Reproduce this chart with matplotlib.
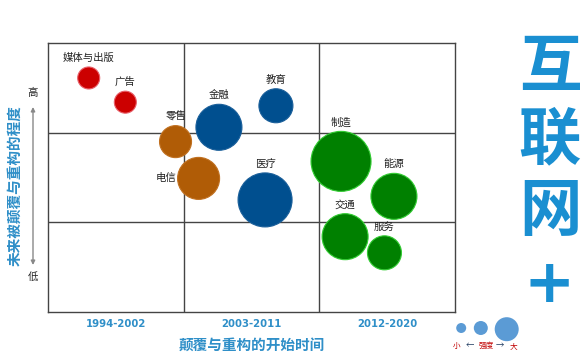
import matplotlib.pyplot as plt

plt.rcParams['font.family'] = ['Noto Sans CJK SC', 'DejaVu Sans']

# Industry bubbles: start period (x), degree of disruption (y), bubble radius (px)
industries = ["媒体与出版", "广告", "零售", "电信", "金融", "教育", "医疗",
              "制造", "能源", "交通", "服务"]
start_time = [0.30, 0.57, 0.94, 1.11, 1.26, 1.68, 1.60, 2.16, 2.55, 2.19, 2.48]
disruption = [2.61, 2.34, 1.90, 1.49, 2.06, 2.30, 1.25, 1.68, 1.29, 0.84, 0.66]
strength   = [11, 11, 16, 21, 23, 17, 27, 30, 23, 23, 17]
groups     = ["red", "red", "brown", "brown", "blue", "blue", "blue",
              "green", "green", "green", "green"]

periods = ["1994-2002", "2003-2011", "2012-2020"]
legend_strength = [5, 7, 12]

fill = {"red": "#cc0000", "brown": "#b05c06", "blue": "#004f8f", "green": "#008000"}
edge = {"red": "#e8606a", "brown": "#c07020", "blue": "#1a5f9a", "green": "#33cc33"}
label_blue = "#2f8fc8"

# pixel radius -> scatter size (points^2), figure at 100 dpi
def to_size(r):
    return (2 * r * 0.72) ** 2

fig = plt.figure(figsize=(5.88, 3.57), dpi=100)
ax = fig.add_axes([48/588, 1 - 312/357, 407/588, 269/357])
ax.set_xlim(0, 3)
ax.set_ylim(0, 3)

for v in [1, 2]:
    ax.axvline(v, color="#444444", lw=1)
    ax.axhline(v, color="#444444", lw=1)
for s in ax.spines.values():
    s.set_color("#444444")
    s.set_linewidth(1)

ax.scatter(start_time, disruption, s=[to_size(r) for r in strength],
           c=[fill[g] for g in groups], edgecolors=[edge[g] for g in groups],
           linewidths=0.8, zorder=3)

for name, x, y, r in zip(industries, start_time, disruption, strength):
    if name == "电信":
        ax.annotate(name, (x, y), xytext=(-(r + 12) * 0.72, 0), textcoords="offset points",
                    ha="center", va="center", fontsize=7.5, color="#222222")
    else:
        ax.annotate(name, (x, y), xytext=(0, (r + 9) * 0.72), textcoords="offset points",
                    ha="center", va="center", fontsize=7.5, color="#222222")

ax.set_xticks([0.5, 1.5, 2.5])
ax.set_xticklabels(periods, fontsize=7.3, fontweight="bold", color=label_blue,
                   family=["DejaVu Sans"])
ax.tick_params(axis="x", length=0, pad=5)
ax.set_yticks([])

# axis titles
fig.text(252/588, 1 - 345/357, "颠覆与重构的开始时间", ha="center", va="center",
         fontsize=10.5, fontweight="bold", color=label_blue)
fig.text(14/588, 1 - 186/357, "未来被颠覆与重构的程度", ha="center", va="center",
         rotation=90, fontsize=10.5, fontweight="bold", color=label_blue)

# high / low arrow
fig.text(33/588, 1 - 93/357, "高", ha="center", va="center", fontsize=7.5, color="#222222")
fig.text(33/588, 1 - 277/357, "低", ha="center", va="center", fontsize=7.5, color="#222222")
ax.annotate("", xy=(33/588, 1 - 107/357), xytext=(33/588, 1 - 265/357),
            xycoords="figure fraction", textcoords="figure fraction",
            arrowprops=dict(arrowstyle="<|-|>", color="#888888", lw=1,
                            mutation_scale=6, shrinkA=0, shrinkB=0))

# big side title
for ch, yp in zip(["互", "联", "网"], [68, 140, 212]):
    fig.text(550/588, 1 - yp/357, ch, ha="center", va="center", fontsize=45,
             fontweight="black", color="#1a8fd1")
fig.text(549/588, 1 - 285/357, "+", ha="center", va="center", fontsize=44,
         fontweight="bold", color="#1a8fd1", family=["DejaVu Sans"])

# strength legend
leg = fig.add_axes([450/588, 1 - 340/357, 70/588, 24/357])
leg.set_xlim(0, 1)
leg.set_ylim(0, 1)
leg.axis("off")
leg.scatter([0.16, 0.44, 0.81], [0.5, 0.5, 0.45], s=[to_size(r) for r in legend_strength],
            c="#5b9bd5", edgecolors="none", clip_on=False)
fig.text(457/588, 1 - 346/357, "小", ha="center", va="center", fontsize=5.5, color="#c00000")
fig.text(470/588, 1 - 346/357, "←", ha="center", va="center", fontsize=6, color="#1f3a60")
fig.text(486/588, 1 - 346/357, "强度", ha="center", va="center", fontsize=5.5, color="#c00000")
fig.text(500/588, 1 - 346/357, "→", ha="center", va="center", fontsize=6, color="#1f3a60")
fig.text(513/588, 1 - 346/357, "大", ha="center", va="center", fontsize=5.5, color="#c00000")

fig.savefig("out.png", dpi=100)
